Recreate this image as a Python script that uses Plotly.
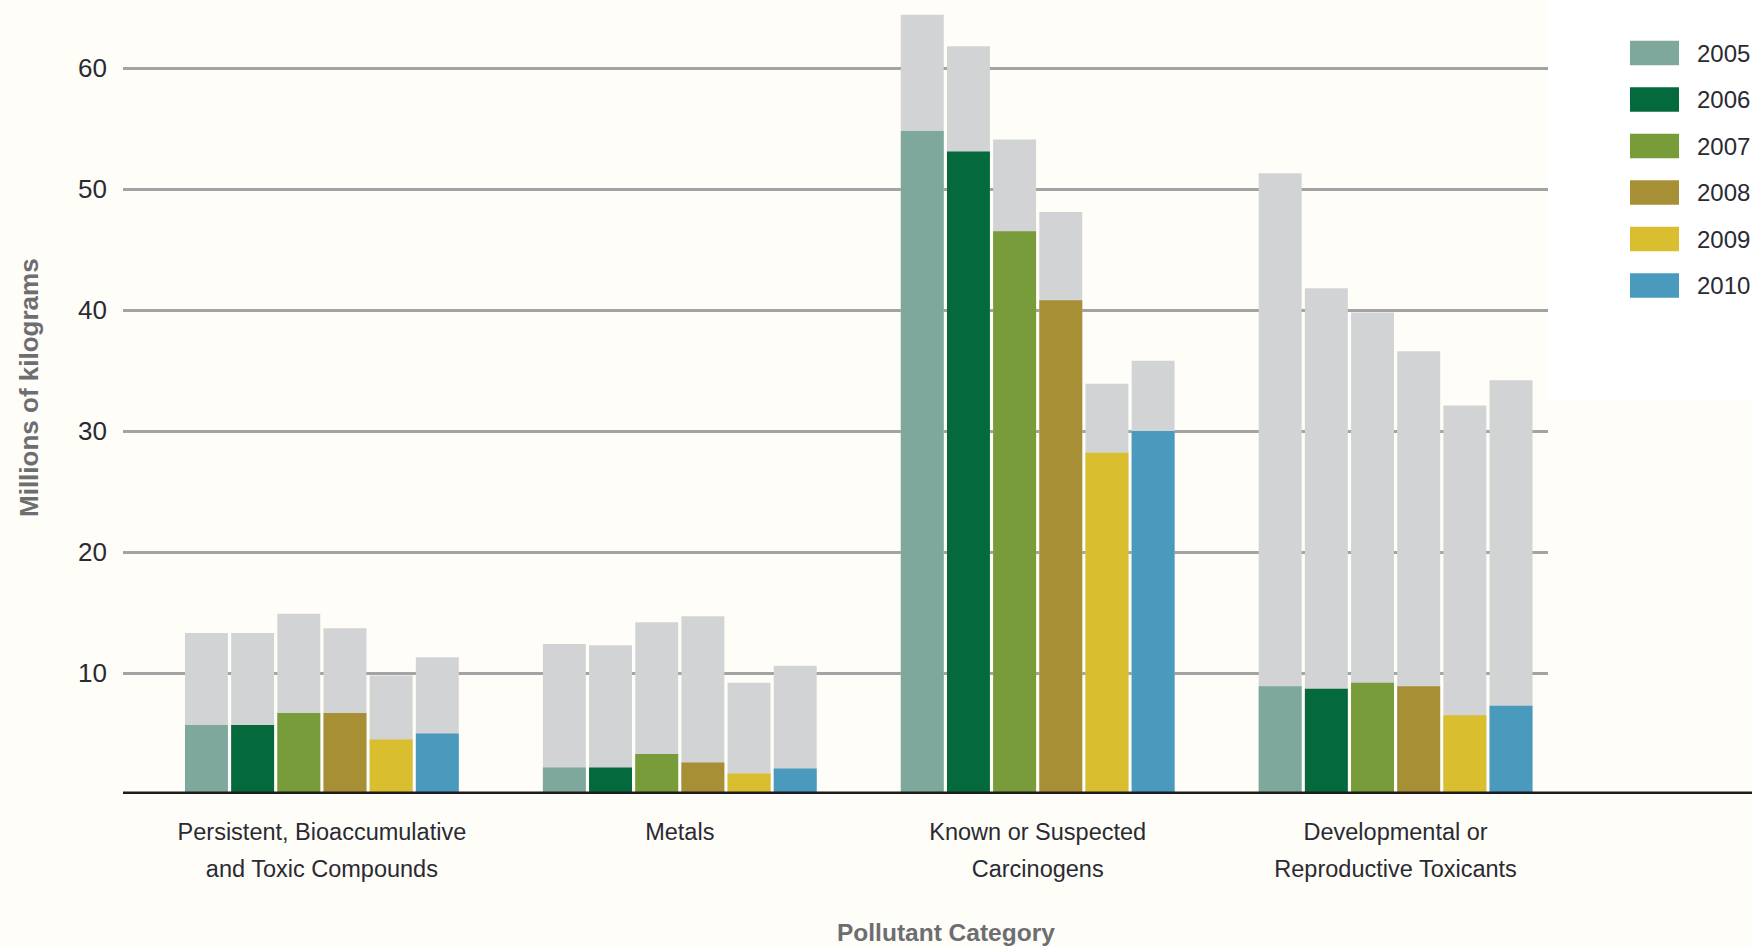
import plotly.graph_objects as go

# ---------------- data ----------------
categories = [
    "Persistent, Bioaccumulative and Toxic Compounds",
    "Metals",
    "Known or Suspected Carcinogens",
    "Developmental or Reproductive Toxicants",
]
category_lines = [
    ["Persistent, Bioaccumulative", "and Toxic Compounds"],
    ["Metals"],
    ["Known or Suspected", "Carcinogens"],
    ["Developmental or", "Reproductive Toxicants"],
]
years = ["2005", "2006", "2007", "2008", "2009", "2010"]

# full (grey) bar heights, millions of kg, one value per category
total_2005 = [13.3, 12.4, 64.4, 51.3]
total_2006 = [13.3, 12.3, 61.8, 41.8]
total_2007 = [14.9, 14.2, 54.1, 39.8]
total_2008 = [13.7, 14.7, 48.1, 36.6]
total_2009 = [9.8, 9.2, 33.9, 32.1]
total_2010 = [11.3, 10.6, 35.8, 34.2]

# coloured portion of each bar, millions of kg
part_2005 = [5.7, 2.2, 54.8, 8.9]
part_2006 = [5.7, 2.2, 53.1, 8.7]
part_2007 = [6.7, 3.3, 46.5, 9.2]
part_2008 = [6.7, 2.6, 40.8, 8.9]
part_2009 = [4.5, 1.7, 28.2, 6.5]
part_2010 = [5.0, 2.1, 30.0, 7.3]

y_ticks = [10, 20, 30, 40, 50, 60]

totals = [total_2005, total_2006, total_2007, total_2008, total_2009, total_2010]
parts = [part_2005, part_2006, part_2007, part_2008, part_2009, part_2010]

# ---------------- style ----------------
year_colors = ["#7fa89c", "#046a3e", "#779c39", "#a78f35", "#d9be2f", "#4a9abe"]
grey = "#d2d3d5"
bg = "#fffdf7"
text_col = "#2a2a33"
title_col = "#6d6e71"
FONT = "Liberation Sans, Arial, sans-serif"
CAT_SIZE = 23.5      # glyph size of category labels
CAT_LINE = 28.5      # size used for line spacing of category labels

W, H = 1752, 947
ML, MR, MT, MB = 123, 204, 2, 153
PW, PH = W - ML - MR, H - MT - MB


def xp(px):
    return (px - ML) / PW


def yp(py):
    return (H - MB - py) / PH


fig = go.Figure()

# grey full bars first, coloured portions drawn on top in the same slot
for yr, tot in zip(years, totals):
    fig.add_trace(go.Bar(
        x=categories, y=tot, offsetgroup=yr, name=yr + " total",
        marker=dict(color=grey, line=dict(width=0)), showlegend=False,
        hoverinfo="skip",
    ))
for yr, part, col in zip(years, parts, year_colors):
    fig.add_trace(go.Bar(
        x=categories, y=part, offsetgroup=yr, name=yr,
        marker=dict(color=col, line=dict(width=0)), showlegend=False,
    ))

shapes = []
annotations = []

# white panel behind legend
shapes.append(dict(type="rect", xref="paper", yref="paper",
                   x0=1.0, x1=xp(W) + 0.01, y0=yp(400), y1=yp(0) + 0.01,
                   fillcolor="#ffffff", line=dict(width=0), layer="below"))

# heavy baseline running to the right edge
shapes.append(dict(type="line", xref="paper", yref="y",
                   x0=0, x1=xp(W) + 0.01, y0=0, y1=0,
                   line=dict(color="#1e1b1c", width=5), layer="above"))

# custom legend
for i, (yr, col) in enumerate(zip(years, year_colors)):
    top = 40.7 + 46.5 * i
    shapes.append(dict(type="rect", xref="paper", yref="paper",
                       x0=xp(1630), x1=xp(1679), y0=yp(top + 24.5), y1=yp(top),
                       fillcolor=col, line=dict(width=0)))
    annotations.append(dict(xref="paper", yref="paper", x=xp(1695), y=yp(top + 12.5),
                            text=yr, showarrow=False, xanchor="left", yanchor="middle",
                            font=dict(family=FONT, size=24, color=text_col)))

# axis titles
annotations.append(dict(xref="paper", yref="paper", x=xp(946), y=yp(932),
                        text="<b>Pollutant Category</b>", showarrow=False,
                        xanchor="center", yanchor="middle",
                        font=dict(family=FONT, size=24.5, color=title_col)))
annotations.append(dict(xref="paper", yref="paper", x=xp(29), y=yp(388),
                        text="<b>Millions of kilograms</b>", showarrow=False,
                        textangle=-90, xanchor="center", yanchor="middle",
                        font=dict(family=FONT, size=26, color=title_col)))

cat_ticktext = [
    "<br>".join("<span style='font-size:%spx'>%s</span>" % (CAT_SIZE, ln) for ln in lines)
    for lines in category_lines
]

fig.update_layout(
    template="none",
    width=W, height=H,
    margin=dict(l=ML, r=MR, t=MT, b=MB, pad=0),
    paper_bgcolor=bg, plot_bgcolor=bg,
    barmode="group", bargap=0.226, bargroupgap=0.07,
    showlegend=False,
    shapes=shapes, annotations=annotations,
    font=dict(family=FONT, color=text_col),
)
fig.update_xaxes(
    type="category", range=[-0.5557, 3.4258], automargin=False,
    tickvals=categories, ticktext=cat_ticktext,
    showgrid=False, zeroline=False, showline=False, ticks="",
    ticklabelstandoff=16,
    tickfont=dict(family=FONT, size=CAT_LINE, color=text_col),
)
fig.update_yaxes(
    range=[0, PH / 12.1], automargin=False,
    tickvals=y_ticks, ticktext=[str(v) for v in y_ticks],
    showgrid=True, gridcolor="#a3a3a3", gridwidth=2.5,
    zeroline=False, showline=False, ticks="", ticklabelstandoff=15,
    tickfont=dict(family=FONT, size=26, color=text_col),
)

fig.write_html(
    "out.html",
    config={"displayModeBar": False},
    post_script="document.body.style.margin='0';document.body.style.background='%s';" % bg,
)
